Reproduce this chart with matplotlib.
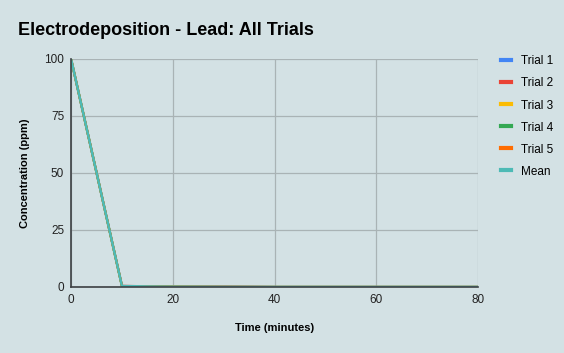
import matplotlib.pyplot as plt

# Dane pomiarowe (czas w minutach, stężenie w ppm)
time_min = [0, 10, 15, 20, 30, 40, 50, 60, 70, 80]
trial1 = [100, 0.4, 0.2, 0.1, 0.1, 0.0, 0.0, 0.0, 0.0, 0.0]
trial2 = [100, 0.5, 0.3, 0.1, 0.1, 0.0, 0.0, 0.0, 0.0, 0.0]
trial3 = [100, 0.3, 0.2, 0.1, 0.0, 0.0, 0.0, 0.0, 0.0, 0.0]
trial4 = [100, 0.4, 0.2, 0.1, 0.0, 0.0, 0.0, 0.0, 0.0, 0.0]
trial5 = [100, 0.4, 0.3, 0.1, 0.1, 0.0, 0.0, 0.0, 0.0, 0.0]
series_names = ["Trial 1", "Trial 2", "Trial 3", "Trial 4", "Trial 5"]
colors = ["#4285f4", "#ea4335", "#fbbc04", "#34a853", "#ff6d01"]
mean_color = "#4dbab5"

trials = [trial1, trial2, trial3, trial4, trial5]
mean = [sum(v) / len(v) for v in zip(*trials)]

bg = "#d3e1e4"
plt.rcParams['font.family'] = ['Liberation Sans', 'DejaVu Sans']

fig = plt.figure(figsize=(5.64, 3.53), dpi=100, facecolor=bg)
ax = fig.add_axes([0.126, 0.187, 0.722, 0.646], facecolor=bg)

for name, vals, c in zip(series_names, trials, colors):
    ax.plot(time_min, vals, color=c, lw=1.6, label=name)
ax.plot(time_min, mean, color=mean_color, lw=1.8, label="Mean")

ax.set_xlim(0, 80)
ax.set_ylim(0, 100)
ax.set_xticks([0, 20, 40, 60, 80])
ax.set_yticks([0, 25, 50, 75, 100])
ax.grid(True, color="#a9b3b5", lw=0.9)
ax.set_axisbelow(True)
for s in ["top", "right"]:
    ax.spines[s].set_visible(False)
for s in ["left", "bottom"]:
    ax.spines[s].set_color("#3c4043")
    ax.spines[s].set_linewidth(1.2)
ax.tick_params(length=0, labelsize=8.5, colors="#222222", pad=5)

ax.set_xlabel("Time (minutes)", fontsize=8, fontweight="bold", labelpad=12)
ax.set_ylabel("Concentration (ppm)", fontsize=8, fontweight="bold", labelpad=10)

fig.text(0.032, 0.915, "Electrodeposition - Lead: All Trials", fontsize=13,
         fontweight="bold", va="center")

leg = ax.legend(loc="upper left", bbox_to_anchor=(1.03, 1.062), frameon=False,
                fontsize=8.5, handlelength=0.8, handletextpad=0.9, labelspacing=0.85)
for line in leg.get_lines():
    line.set_linewidth(3)

fig.savefig("out.png", dpi=100, facecolor=bg)
